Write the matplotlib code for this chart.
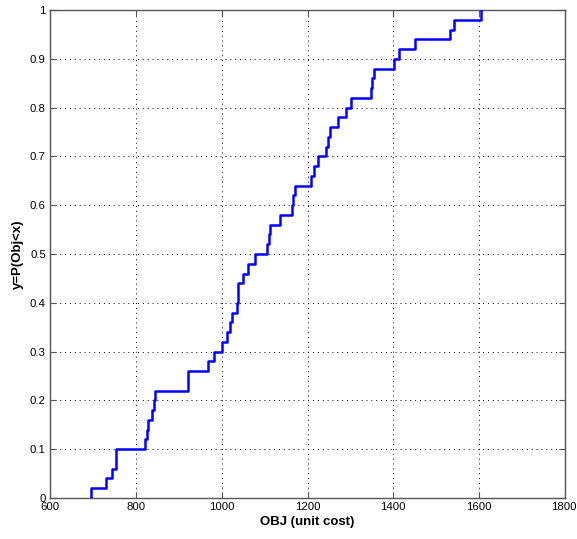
import numpy as np
import matplotlib
matplotlib.use('Agg')
import matplotlib.pyplot as plt

plt.rcParams['font.family'] = ['Liberation Sans', 'DejaVu Sans']

obj = [695, 731, 744, 753, 753, 821, 825, 828, 837, 842,
       845, 922, 922, 967, 981, 1001, 1012, 1019, 1024, 1035,
       1037, 1038, 1049, 1062, 1077, 1106, 1110, 1113, 1137, 1163,
       1167, 1170, 1207, 1214, 1224, 1244, 1248, 1252, 1272, 1289,
       1301, 1347, 1351, 1356, 1401, 1413, 1451, 1531, 1542, 1605]
xticks = [600, 800, 1000, 1200, 1400, 1600, 1800]
yticks = [0, 0.1, 0.2, 0.3, 0.4, 0.5, 0.6, 0.7, 0.8, 0.9, 1]
ytick_labels = ['0', '0.1', '0.2', '0.3', '0.4', '0.5', '0.6', '0.7', '0.8', '0.9', '1']

# empirical cdf
xs = np.sort(np.array(obj, dtype=float))
ps = np.arange(1, len(xs) + 1) / len(xs)
xs = np.concatenate([[xs[0]], xs])
ps = np.concatenate([[0.0], ps])

fig = plt.figure(figsize=(5.77, 5.39), dpi=100)
ax = fig.add_axes([50 / 577, 41 / 539, 515 / 577, 488 / 539])

ax.plot(xs, ps, color='#0000ff', lw=1.8, drawstyle='steps-post', zorder=3)

ax.set_xlim(600, 1800)
ax.set_ylim(0, 1)
ax.set_xticks(xticks)
ax.set_yticks(yticks)
ax.set_yticklabels(ytick_labels)
ax.grid(True, color='black', linestyle=(0, (1, 4)), lw=0.7)
ax.tick_params(direction='in', top=True, right=True, labelsize=8.2,
               length=4, color='#555555', pad=3)
for s in ax.spines.values():
    s.set_color('#555555')
    s.set_linewidth(1.0)

# last x label sits flush with the figure edge, like the original
ax.get_xticklabels()[-1].set_horizontalalignment('right')
ax.get_xticklabels()[-1].set_x(1800)
fig.canvas.draw()
lab = ax.get_xticklabels()[-1]
lab.set_horizontalalignment('center')
from matplotlib.transforms import ScaledTranslation
lab.set_transform(lab.get_transform() + ScaledTranslation(-1.5 / 100, 0, fig.dpi_scale_trans))

ax.set_xlabel('OBJ (unit cost)', fontsize=9.5, fontweight='bold', labelpad=3)
ax.set_ylabel('y=P(Obj<x)', fontsize=9.5, fontweight='bold', labelpad=4)

fig.savefig('out.png', dpi=100)
